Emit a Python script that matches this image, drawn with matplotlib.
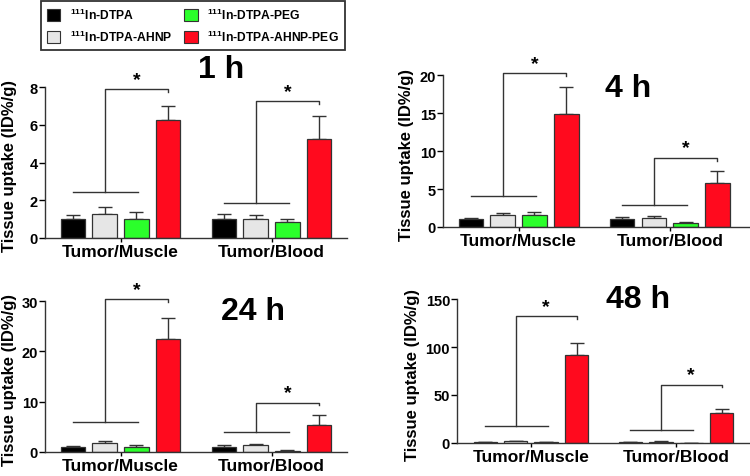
import matplotlib
matplotlib.use("Agg")
import matplotlib.pyplot as plt
from matplotlib.patches import Patch
import numpy as np

plt.rcParams['font.family'] = ['Liberation Sans', 'DejaVu Sans']
plt.rcParams['font.weight'] = 'bold'
plt.rcParams['mathtext.fontset'] = 'custom'
plt.rcParams['mathtext.rm'] = 'Liberation Sans:bold'
plt.rcParams['mathtext.bf'] = 'Liberation Sans:bold'

categories = ["Tumor/Muscle", "Tumor/Blood"]
series = [r"$^{111}$In-DTPA", r"$^{111}$In-DTPA-AHNP",
          r"$^{111}$In-DTPA-PEG", r"$^{111}$In-DTPA-AHNP-PEG"]
colors = ["#000000", "#e6e6e6", "#2bff2b", "#ff0a1e"]

# means per series [Tumor/Muscle, Tumor/Blood]
means_1h = [[1.00, 1.00], [1.29, 1.01], [1.03, 0.83], [6.27, 5.24]]
errs_1h = [[0.20, 0.26], [0.37, 0.19], [0.35, 0.16], [0.70, 1.22]]
means_4h = [[1.10, 1.10], [1.58, 1.23], [1.63, 0.57], [14.9, 5.85]]
errs_4h = [[0.13, 0.22], [0.31, 0.26], [0.35, 0.13], [3.56, 1.53]]
means_24h = [[0.93, 0.99], [1.72, 1.32], [1.06, 0.20], [22.45, 5.30]]
errs_24h = [[0.26, 0.33], [0.53, 0.34], [0.26, 0.26], [4.25, 1.98]]
means_48h = [[0.9, 0.9], [1.8, 1.3], [0.9, 0.2], [91.7, 31.6]]
errs_48h = [[0.5, 0.4], [0.8, 0.5], [0.4, 0.2], [12.8, 3.8]]

# significance bracket heights [Tumor/Muscle, Tumor/Blood]
low_1h, high_1h = [2.42, 1.84], [7.88, 7.26]
low_4h, high_4h = [4.09, 2.86], [20.2, 9.1]
low_24h, high_24h = [5.96, 3.97], [30.3, 9.8]
low_48h, high_48h = [17.4, 13.9], [132.0, 60.8]

titles = ["1 h", "4 h", "24 h", "48 h"]
yticks_list = [[0, 2, 4, 6, 8], [0, 5, 10, 15, 20], [0, 10, 20, 30], [0, 50, 100, 150]]

W, H = 750, 477
fig = plt.figure(figsize=(W / 100, H / 100), dpi=100)


def px_axes(l, r, b, t):
    return fig.add_axes([l / W, (H - b) / H, (r - l) / W, (b - t) / H])


panels = [
    dict(box=(45, 347, 239, 88), xlim=(-0.5, 1.5), means=means_1h, errs=errs_1h,
         low=low_1h, high=high_1h, title_xy=(221, 70), ylab_x=10),
    dict(box=(443, 750, 228, 76), xlim=(-0.5, 1.53), means=means_4h, errs=errs_4h,
         low=low_4h, high=high_4h, title_xy=(628, 89), ylab_x=407),
    dict(box=(45, 347, 453, 302), xlim=(-0.5, 1.5), means=means_24h, errs=errs_24h,
         low=low_24h, high=high_24h, title_xy=(253, 312), ylab_x=10),
    dict(box=(457, 750, 444, 300), xlim=(-0.51, 1.51), means=means_48h, errs=errs_48h,
         low=low_48h, high=high_48h, title_xy=(638, 300), ylab_x=412),
]

spacing = 0.21
width = 0.162
offsets = (np.arange(4) - 1.5) * spacing
x = np.arange(len(categories))

for p, title, yt in zip(panels, titles, yticks_list):
    ax = px_axes(*p['box'])
    for i in range(4):
        ax.bar(x + offsets[i], p['means'][i], width, color=colors[i],
               edgecolor='#333333', linewidth=0.9, zorder=2)
        ax.errorbar(x + offsets[i], p['means'][i],
                    yerr=[np.zeros(2), p['errs'][i]], fmt='none',
                    ecolor='#333333', elinewidth=1.0, capsize=5, capthick=1.0, zorder=1)
    ymax = yt[-1]
    ax.set_ylim(0, ymax)
    ax.set_xlim(*p['xlim'])
    ax.set_yticks(yt)
    ax.set_xticks(x)
    ax.set_xticklabels(categories, fontsize=12.5, fontweight='bold')
    ax.tick_params(axis='y', labelsize=10.5, length=4, width=1, pad=1)
    ax.tick_params(axis='x', length=3, width=1, pad=1)
    for lab in ax.get_yticklabels():
        lab.set_fontweight('bold')
    for s in ['top', 'right']:
        ax.spines[s].set_visible(False)
    for s in ['left', 'bottom']:
        ax.spines[s].set_linewidth(1.0)
        ax.spines[s].set_color('#333333')
    # brackets
    tick = 0.018 * ymax
    for g in range(2):
        c = x[g] + offsets
        lo, hi = p['low'][g], p['high'][g]
        kw = dict(color='#333333', lw=1.0, clip_on=False, zorder=3)
        ax.plot([c[0], c[2] + 0.01], [lo, lo], **kw)
        ax.plot([c[1], c[1], c[3], c[3]], [lo, hi, hi, hi - tick], **kw)
        ax.annotate('*', xy=((c[1] + c[3]) / 2, hi), xytext=(0, 1),
                    textcoords='offset points', ha='center', va='bottom',
                    fontsize=14, fontweight='bold', annotation_clip=False)
    tx, ty = p['title_xy']
    fig.text(tx / W, (H - ty) / H, title, fontsize=23, fontweight='bold',
             ha='center', va='center')
    b = p['box']
    fig.text(p['ylab_x'] / W, (H - (b[2] + b[3]) / 2 - 3) / H, "Tissue uptake (ID%/g)",
             rotation=90, ha='center', va='center', fontsize=12, fontweight='bold')

handles = [Patch(facecolor=c, edgecolor='#333333', linewidth=0.8) for c in colors]
leg = fig.legend(handles, series, ncol=2, loc='upper left',
                 bbox_to_anchor=(41 / W, 1 - 2 / H), frameon=True, fancybox=False,
                 edgecolor='black', fontsize=8.7, handlelength=1.1, handleheight=1.1,
                 columnspacing=1.0, handletextpad=0.8, borderpad=0.5, labelspacing=0.55,
                 borderaxespad=0)
leg.get_frame().set_linewidth(1.3)
for t in leg.get_texts():
    t.set_fontweight('bold')

fig.savefig("out.png", dpi=100)
